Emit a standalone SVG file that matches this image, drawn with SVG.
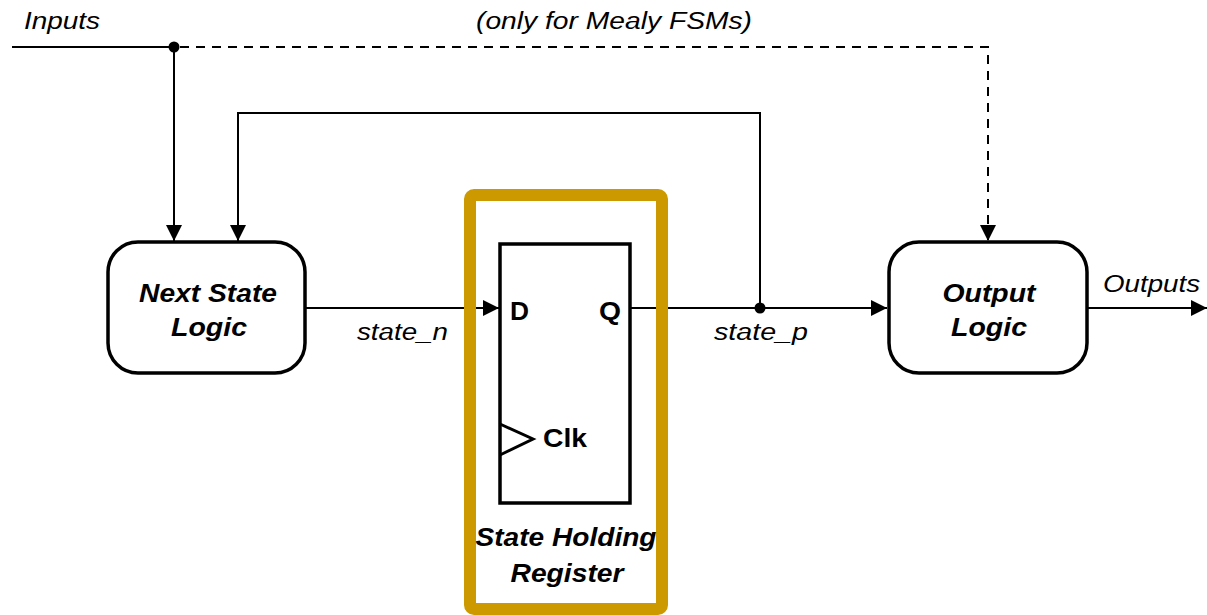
<svg xmlns="http://www.w3.org/2000/svg" width="1207" height="615" viewBox="0 0 1207 615">
<style>
.box{fill:#fff;stroke:#000;stroke-width:3.5}
.w{fill:none;stroke:#000;stroke-width:2}
.d{fill:none;stroke:#000;stroke-width:2;stroke-dasharray:9 7}
.lbl{font-family:"Liberation Sans",Arial,sans-serif;font-style:italic;font-size:23px;fill:#000}
.bi{font-family:"Liberation Sans",Arial,sans-serif;font-style:italic;font-weight:bold;font-size:25px;fill:#000;text-anchor:middle}
.b{font-family:"Liberation Sans",Arial,sans-serif;font-weight:bold;font-size:25px;fill:#000}
</style>
<defs>
<marker id="ah2" viewBox="0 0 10 10" refX="10" refY="5" markerWidth="16" markerHeight="16" markerUnits="userSpaceOnUse" orient="auto">
<path d="M0,0 L10,5 L0,10 z" fill="#000"/>
</marker>
</defs>
<rect width="1207" height="615" fill="#fff"/>
<g id="connectors">
<path class="w" d="M12,47 H174"/>
<path class="w" d="M174,47 V241" marker-end="url(#ah2)"/>
<path class="d" d="M180,47 H988 V241" marker-end="url(#ah2)"/>
<path class="w" d="M760,307 V113 H238 V241" marker-end="url(#ah2)"/>
<path class="w" d="M305,308 H499" marker-end="url(#ah2)"/>
<path class="w" d="M630,308 H887" marker-end="url(#ah2)"/>
<path class="w" d="M1088,308 H1207" marker-end="url(#ah2)"/>
<circle cx="174" cy="47" r="5.5" fill="#000"/>
<circle cx="760" cy="308" r="5.5" fill="#000"/>
</g>
<g id="next-state-logic">
<rect class="box" x="108" y="242" width="197" height="131" rx="30"/>
<text class="bi" x="208" y="302" textLength="138" lengthAdjust="spacingAndGlyphs">Next State</text>
<text class="bi" x="209" y="336" textLength="76" lengthAdjust="spacingAndGlyphs">Logic</text>
</g>
<g id="output-logic">
<rect class="box" x="889" y="242" width="198" height="131" rx="30"/>
<text class="bi" x="989" y="302" textLength="93" lengthAdjust="spacingAndGlyphs">Output</text>
<text class="bi" x="989" y="336" textLength="76" lengthAdjust="spacingAndGlyphs">Logic</text>
</g>
<g id="state-register">
<rect x="470" y="195" width="192" height="414" rx="4" fill="none" stroke="#CC9900" stroke-width="12"/>
<rect class="box" x="500" y="244" width="130" height="259"/>
<path d="M500,424 L533,439 L500,455" fill="none" stroke="#000" stroke-width="3"/>
<text class="b" x="510" y="320" textLength="19" lengthAdjust="spacingAndGlyphs">D</text>
<text class="b" x="599" y="320" textLength="22" lengthAdjust="spacingAndGlyphs">Q</text>
<text class="b" x="543" y="447" textLength="44" lengthAdjust="spacingAndGlyphs">Clk</text>
<text class="bi" x="566" y="546" textLength="181" lengthAdjust="spacingAndGlyphs">State Holding</text>
<text class="bi" x="567" y="582" textLength="113" lengthAdjust="spacingAndGlyphs">Register</text>
</g>
<g id="labels">
<text class="lbl" x="24" y="29" textLength="76" lengthAdjust="spacingAndGlyphs">Inputs</text>
<text class="lbl" x="476" y="29" textLength="276" lengthAdjust="spacingAndGlyphs">(only for Mealy FSMs)</text>
<text class="lbl" x="357" y="340" textLength="91" lengthAdjust="spacingAndGlyphs">state_n</text>
<text class="lbl" x="714" y="340" textLength="94" lengthAdjust="spacingAndGlyphs">state_p</text>
<text class="lbl" x="1103" y="292" textLength="97" lengthAdjust="spacingAndGlyphs">Outputs</text>
</g>
</svg>
